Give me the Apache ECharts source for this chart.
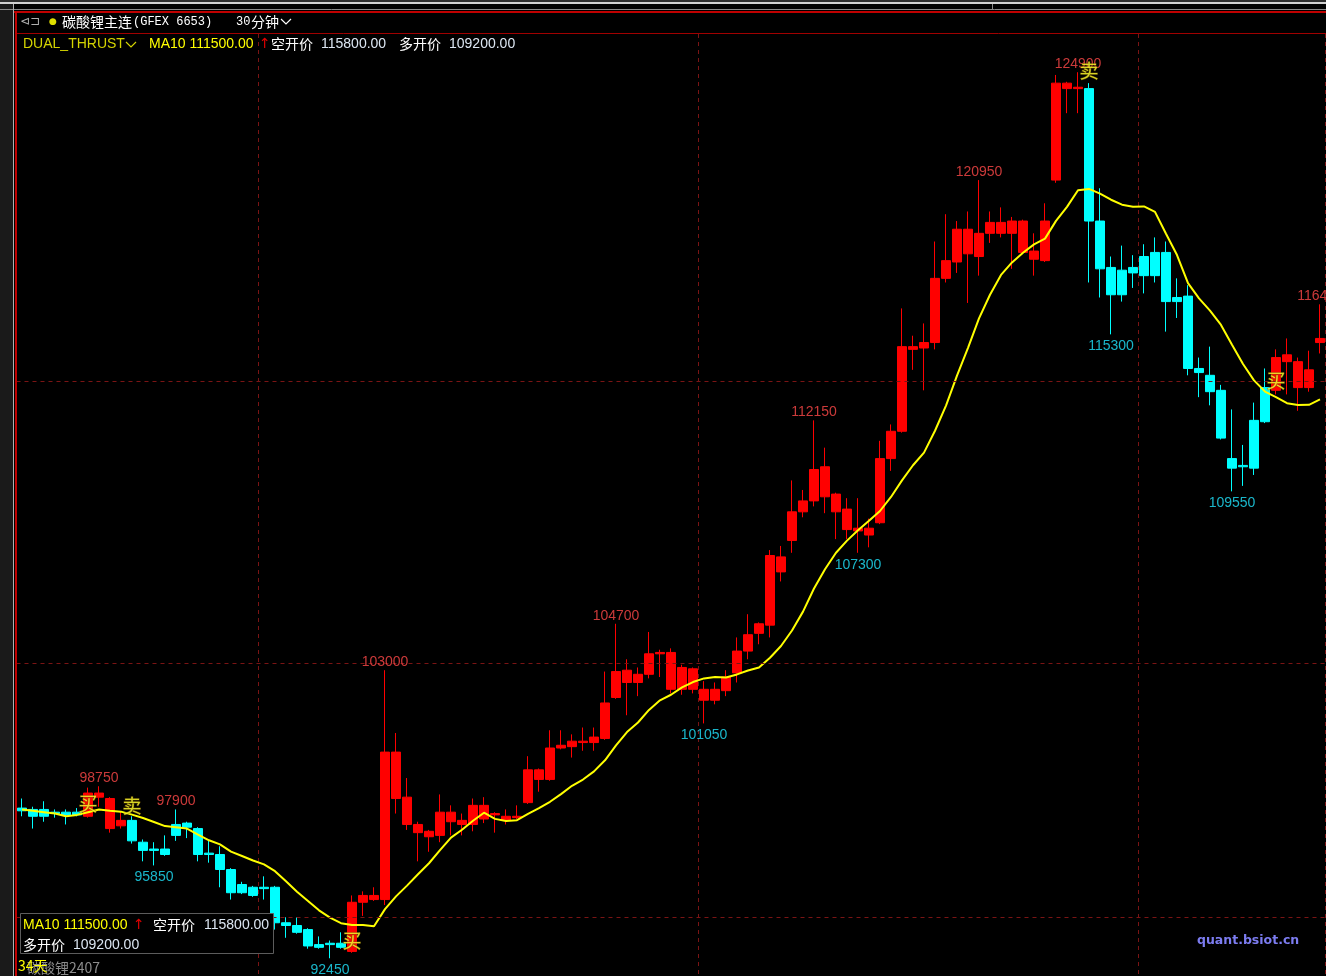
<!DOCTYPE html>
<html><head><meta charset="utf-8">
<script src="https://cdn.jsdelivr.net/npm/echarts@6/dist/echarts.min.js"></script>
<style>html,body{margin:0;padding:0;background:#000;}#c{width:1326px;height:976px;}</style>
</head><body><div id="c"></div>
<script>
// ---- data ----
const opens  = [97950,97900,97650,97800,97700,97800,97650,98500,98300,97300,97500,96700,96400,96450,96950,97400,97200,96250,96250,95700,94850,95050,95000,95050,93750,93650,93500,92950,92950,93000,92700,94500,94750,94600,100000,98350,97350,97100,96950,97800,97500,97350,98050,97700,97650,97600,98150,99350,99000,100150,100200,100400,100350,100500,102000,103000,102550,102850,103600,103650,102300,103050,102300,101900,102250,102900,103700,104350,104650,107150,107750,108800,109200,110450,109450,108900,108200,107950,108400,110750,111750,114850,114800,115000,117350,117950,119150,118150,119000,119400,119000,119450,118350,118000,120950,124500,124300,124300,119450,117750,116750,117750,117450,118300,118300,116650,116700,114050,113800,113250,110750,110450,110400,112100,113250,114550,114300,113350,115000];
const closes = [97850,97650,97900,97750,97800,97700,98500,98350,97200,97500,96750,96400,96450,96250,97350,97250,96250,96300,95700,94850,95150,94750,95050,93750,93650,93400,92900,92850,93000,92850,94500,94750,94600,100000,98300,97350,97050,96900,97800,97450,97350,98050,97550,97750,97500,97650,99350,99000,100150,100250,100400,100350,100550,101800,102950,102550,102850,103600,103650,102300,103100,102300,101900,102300,102750,103700,104300,104700,107200,106600,108800,109200,110350,109350,108800,108150,108100,108200,110750,111750,114850,114750,115000,117350,118000,119150,118250,119000,119400,119000,119450,118300,118050,119450,124500,124300,124350,119450,117700,116750,117650,117550,118150,117450,116500,116500,114050,113900,113200,111500,110400,110500,112150,113350,114450,114300,113350,114000,115150];
const lows   = [97650,97200,97450,97600,97350,97650,97600,98000,97050,97200,96650,96000,95850,96200,96750,96850,96000,95950,95050,94600,94800,94700,94600,93500,93200,93350,92800,92800,92450,92800,92650,94000,94550,94400,97750,97150,96000,96350,96700,96950,96950,97100,97400,97050,97350,97550,98100,98550,98950,100100,99800,100050,100050,100450,101950,101350,102050,102700,102750,102150,102100,102150,101050,101750,102050,102550,103400,103950,104200,106250,107300,108600,109000,108750,107800,107800,107300,107500,108350,110300,111700,114000,113250,114750,117200,117550,116450,117450,118650,118850,117700,118250,117450,117950,120850,123400,123400,117200,116650,115300,116500,117000,116800,117200,115400,115900,113800,113000,112700,111450,109550,109750,110150,112050,113100,113100,112500,113200,114600];
const highs  = [98300,98000,98200,97900,97900,97950,98700,98750,98350,97800,97650,96800,96700,96950,97900,97450,97250,96800,96550,95750,95250,95100,95450,95100,93950,93950,93550,93250,93100,93400,94750,94900,95050,103000,100700,99050,97450,97150,98450,98050,97750,98300,98350,97800,97900,98050,99850,99400,100800,100800,100650,100900,100900,102950,104700,103400,103100,104400,103750,103800,103200,103100,102600,102550,103000,104200,105050,104750,107400,107550,109950,109600,112150,111150,109500,109300,109300,108550,111400,112000,116250,115250,115700,118700,119700,119450,119800,120950,119800,119950,119600,119500,119000,120100,124800,124550,124900,124500,120650,118150,118550,118200,118600,118850,118700,117350,117100,114450,114850,113450,112550,111250,112800,114050,114750,115150,114450,114700,116400];
const categories = opens.map((_, i) => String(i + 1));
// MA10 for the first 9 bars (history before the visible window)
const maHead = [97900,97850,97800,97750,97650,97700,97800,97900,97850];
// trading signals: [bar index, text, price where the glyph sits]
const signals = [[6,'买',98100],[10,'卖',98050],[30,'买',93100],[97,'卖',124950],[114,'买',113600]];
const initialState = -1;
const highMarks = [7,14,33,54,72,87,96,118];
const lowMarks  = [12,28,62,76,99,110];
const hLevels = [113600,103250,93950];
const sessionBreaks = [22,62,102];
const titleName = '碳酸锂主连';
const titleCode = '(GFEX 6653)';
const period = '30分钟';
const maText = 'MA10 111500.00';
const shortLabel = '空开价', shortPrice = '115800.00';
const longLabel = '多开价', longPrice = '109200.00';

// ---- derived ----
const UP = '#ff0000', DN = '#00ffff';
let st = initialState;
const candleData = opens.map((o, i) => {
  const s = signals.find(x => x[0] === i);
  if (s) st = s[1] === '买' ? 1 : -1;
  const c = st > 0 ? UP : DN;
  return { value: [o, closes[i], lows[i], highs[i]],
           itemStyle: { color: c, color0: c, borderColor: c, borderColor0: c } };
});
const ma10 = closes.map((c, i) => i < 9 ? maHead[i] :
  Math.round(closes.slice(i - 9, i + 1).reduce((a, b) => a + b, 0) / 10));

const chart = echarts.init(document.getElementById('c'), null, { renderer: 'canvas' });
const LF = '"Liberation Sans", Arial, "Noto Sans CJK SC"';
const CJK = '"Noto Sans CJK SC"';
function txt(x, y, text, fill, font, extra) {
  return Object.assign({ type: 'text', x: x, y: y, z: 100,
    style: { text: text, fill: fill, font: font, verticalAlign: 'middle' } }, extra || {});
}
const graphics = [
  { type: 'rect', shape: { x: 0, y: 0, width: 1326, height: 2 }, style: { fill: '#2d2d2d' }, z: 90 },
  { type: 'rect', shape: { x: 0, y: 2, width: 1326, height: 2 }, style: { fill: '#d0d0d0' }, z: 90 },
  { type: 'rect', shape: { x: 0, y: 4, width: 13, height: 972 }, style: { fill: '#1a1a1a' }, z: 90 },
  { type: 'line', shape: { x1: 0, y1: 9.5, x2: 1326, y2: 9.5 }, style: { stroke: '#8a8a8a', lineWidth: 1 }, z: 90 },
  { type: 'line', shape: { x1: 992.5, y1: 4, x2: 992.5, y2: 9 }, style: { stroke: '#8a8a8a', lineWidth: 1 }, z: 90 },
  { type: 'line', shape: { x1: 13.5, y1: 4, x2: 13.5, y2: 976 }, style: { stroke: '#b0b0b0', lineWidth: 1 }, z: 91 },
  { type: 'line', shape: { x1: 14, y1: 12, x2: 1326, y2: 12 }, style: { stroke: '#c00000', lineWidth: 2 }, z: 91 },
  { type: 'line', shape: { x1: 16, y1: 33.5, x2: 1326, y2: 33.5 }, style: { stroke: '#a00000', lineWidth: 1 }, z: 91 },
  { type: 'line', shape: { x1: 16, y1: 12, x2: 16, y2: 976 }, style: { stroke: '#c00000', lineWidth: 2 }, z: 91 },
  // title row
  txt(20, 22, '⊲⊐', '#b0b0b0', '12px "DejaVu Sans"'),
  txt(49, 22, '●', '#e0e000', '9px "DejaVu Sans"'),
  txt(62, 22, titleName, '#ffffff', '14px ' + CJK),
  txt(133, 22, titleCode, '#ffffff', '12px "Liberation Mono"'),
  txt(236, 22, '30', '#ffffff', '12px "Liberation Mono"'),
  txt(251, 22, '分钟', '#ffffff', '14px ' + CJK),
  { type: 'polyline', shape: { points: [[281, 19], [286, 24], [291, 19]] }, style: { stroke: '#ffffff', lineWidth: 1.2, fill: null }, z: 100 },
  // indicator row
  txt(23, 44, 'DUAL_THRUST', '#d4d400', '14px ' + LF),
  { type: 'polyline', shape: { points: [[126, 42], [131, 47], [136, 42]] }, style: { stroke: '#d4d400', lineWidth: 1.2, fill: null }, z: 100 },
  txt(149, 44, maText, '#ffff00', '14px ' + LF),
  txt(259, 44, '↑', '#e00000', '14px "DejaVu Sans"'),
  txt(271, 44, shortLabel, '#ffffff', '14px ' + CJK),
  txt(321, 44, shortPrice, '#dce6f2', '14px ' + LF),
  txt(399, 44, longLabel, '#ffffff', '14px ' + CJK),
  txt(449, 44, longPrice, '#dce6f2', '14px ' + LF),
  // bottom-left info box
  { type: 'rect', shape: { x: 20.5, y: 913.5, width: 253, height: 40 }, style: { fill: '#000000', stroke: '#5c5c5c', lineWidth: 1 }, z: 95 },
  txt(23, 925, maText, '#ffff00', '14px ' + LF),
  txt(133, 925, '↑', '#e00000', '14px "DejaVu Sans"'),
  txt(153, 925, shortLabel, '#ffffff', '14px ' + CJK),
  txt(204, 925, shortPrice, '#dce6f2', '14px ' + LF),
  txt(23, 945, longLabel, '#ffffff', '14px ' + CJK),
  txt(73, 945, longPrice, '#dce6f2', '14px ' + LF),
  txt(27, 968, '碳酸锂2407', '#8c8c8c', '14px ' + CJK),
  txt(18, 966, '34天', '#ffff00', '14px ' + CJK),
  txt(1197, 941, 'quant.bsiot.cn', '#7c7cf0', 'bold 12.5px "DejaVu Sans"')
];

const hidden = { color: 'rgba(0,0,0,0)', borderWidth: 0 };
chart.setOption({
  backgroundColor: '#000000',
  animation: false,
  grid: { left: 16.5, width: 1309, top: 34, height: 942 },
  xAxis: {
    type: 'category', data: categories, boundaryGap: true,
    axisLine: { show: false }, axisTick: { show: false }, axisLabel: { show: false },
    splitLine: { show: true, interval: (idx) => sessionBreaks.includes(idx),
      lineStyle: { color: '#7a1414', type: [4, 4], width: 1 } }
  },
  yAxis: {
    type: 'value', min: 91800, max: 126300, scale: true,
    axisLine: { show: false }, axisTick: { show: false }, axisLabel: { show: false },
    splitLine: { show: false }
  },
  graphic: graphics,
  series: [
    {
      type: 'candlestick', data: candleData, barWidth: 9, z: 3,
      markLine: { silent: true, symbol: 'none', label: { show: false },
        lineStyle: { color: '#7a1414', type: [4, 4], width: 1 },
        data: hLevels.map(v => ({ yAxis: v })) }
    },
    { type: 'line', data: ma10, symbol: 'none', z: 4,
      lineStyle: { color: '#ffff00', width: 2 } },
    { type: 'scatter', symbolSize: 2, itemStyle: hidden, z: 5,
      labelLayout: { hideOverlap: false },
      data: highMarks.map(i => [i, highs[i]]),
      label: { show: true, position: 'top', distance: 0, color: '#ff4848',
        fontFamily: 'Liberation Sans', fontSize: 14, formatter: p => String(p.value[1]) } },
    { type: 'scatter', symbolSize: 2, itemStyle: hidden, z: 5,
      labelLayout: { hideOverlap: false },
      data: lowMarks.map(i => [i, lows[i]]),
      label: { show: true, position: 'bottom', distance: 4, color: '#20e4fc',
        fontFamily: 'Liberation Sans', fontSize: 14, formatter: p => String(p.value[1]) } },
    { type: 'scatter', symbolSize: 2, itemStyle: hidden, z: 6,
      labelLayout: { hideOverlap: false },
      data: signals.map(s => ({ value: [s[0], s[2]], name: s[1] })),
      label: { show: true, position: 'inside', color: '#ffff30', fontSize: 19,
        fontFamily: 'Noto Sans CJK SC', textBorderColor: 'rgba(120,90,0,0.8)', textBorderWidth: 1,
        formatter: p => p.name } }
  ]
});
</script></body></html>
